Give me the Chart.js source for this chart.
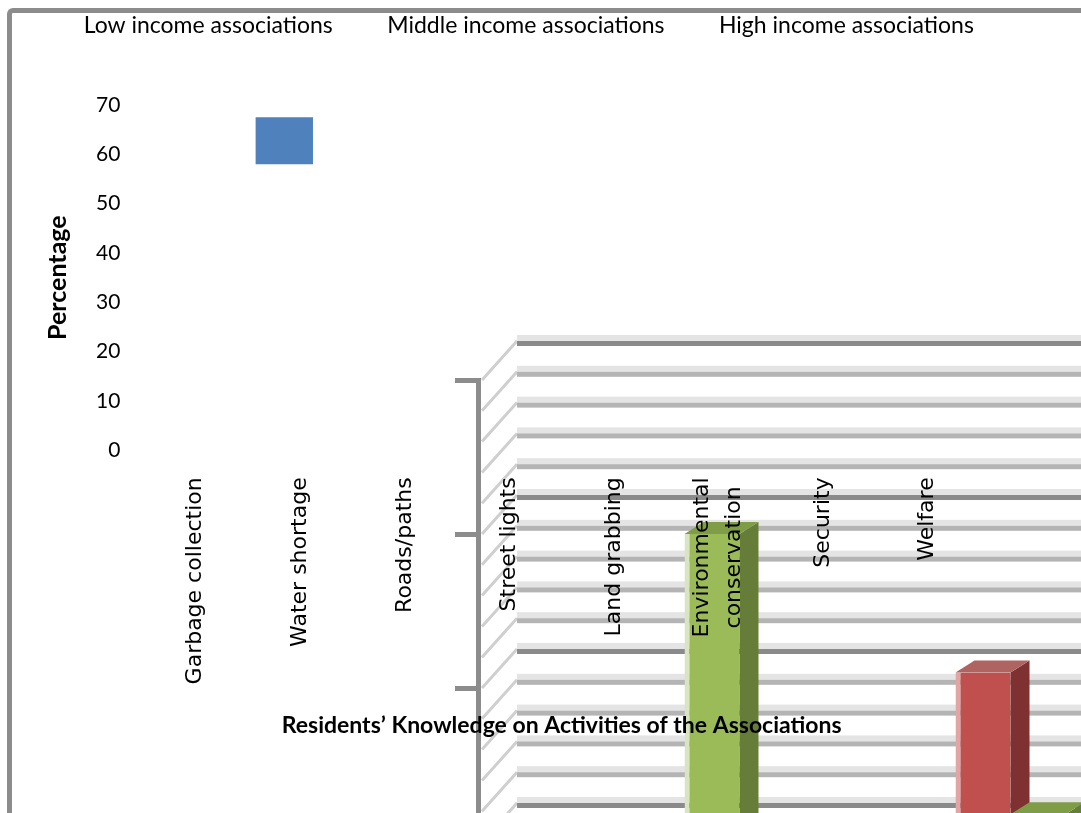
<!DOCTYPE html>
<html>
<head>
<meta charset="utf-8">
<script src="https://cdn.jsdelivr.net/npm/chart.js@4.4.1/dist/chart.umd.min.js"></script>
<style>
  html, body { margin: 0; padding: 0; background: #fff; overflow: hidden; }
  body { width: 1081px; height: 813px; position: relative; }
  #frame { position: absolute; left: 7px; top: 8px; width: 1200px; height: 900px;
           border-left: 5px solid #8c8c8c; border-top: 5px solid #8c8c8c; border-top-left-radius: 6px; }
  #zoomWrap { position: absolute; left: 440px; top: 320px; }
  #mainWrap { position: absolute; left: 0; top: 0; }
</style>
</head>
<body>
<div id="frame"></div>
<div id="zoomWrap"><canvas id="zoomChart" width="1040" height="700"></canvas></div>
<div id="mainWrap"><canvas id="mainChart" width="1081" height="813"></canvas></div>
<script>
// categories and series
const categories = ["Garbage collection", "Water shortage", "Roads/paths", "Street lights",
  "Land grabbing", ["Environmental", "conservation"], "Security", "Welfare"];
const seriesNames = ["Low income associations", "Middle income associations", "High income associations"];
const yTicks = [0, 10, 20, 30, 40, 50, 60, 70];

// main plot: only the clipped low income mark is visible
const lowIncome = [null, [58, 67.5], null, null, null, null, null, null];
const middleIncome = [null, null, null, null, null, null, null, null];
const highIncome = [null, null, null, null, null, null, null, null];

// magnified 3D plot area (bottom right)
const zoomCategories = ["Garbage collection", "Water shortage", "Roads/paths"];
const zoomLow = [null, null, null];
const zoomMiddle = [null, 10.5, null];
const zoomHigh = [15, 5.9, null];
const zoomTicks = [0, 1, 2, 3, 4, 5, 6, 7, 8, 9, 10, 11, 12, 13, 14, 15, 16, 17, 18, 19, 20];

const blue = "#4f81bd", red = "#c0504d", green = "#9bbb59";

// 3D walls and front axis of the magnified plot
const wallPlugin = {
  id: "wall",
  beforeDatasetsDraw(chart) {
    const ctx = chart.ctx;
    const area = chart.chartArea;
    const ya = chart.scales.y;
    const axisX = area.left - 15;
    const dx = 38, dy = -39;
    ctx.save();
    zoomTicks.forEach((v) => {
      const py = ya.getPixelForValue(v);
      const major = v % 5 === 0;
      // side wall line
      ctx.strokeStyle = "#cfcfcf";
      ctx.lineWidth = 3;
      ctx.beginPath();
      ctx.moveTo(axisX + 3, py);
      ctx.lineTo(axisX + dx, py + dy);
      ctx.stroke();
      // back wall line
      ctx.fillStyle = "#e4e4e4";
      ctx.fillRect(axisX + dx, py + dy - 6, chart.width, 6);
      ctx.fillStyle = major ? "#8a8a8a" : "#b4b4b4";
      ctx.fillRect(axisX + dx, py + dy, chart.width, 5);
    });
    // front axis with major ticks
    const top = ya.getPixelForValue(20);
    ctx.fillStyle = "#8c8c8c";
    ctx.fillRect(axisX - 3, top - 2, 5, chart.height);
    zoomTicks.filter((v) => v % 5 === 0).forEach((v) => {
      const py = ya.getPixelForValue(v);
      ctx.fillRect(axisX - 24, py - 2, 24, 5);
    });
    ctx.restore();
  },
  afterDatasetsDraw(chart) {
    const ctx = chart.ctx;
    const bx = 19, by = -12;
    const shades = [
      { side: "#2f4b70", top: "#3d6396" },
      { side: "#7e3130", top: "#b06462" },
      { side: "#667c39", top: "#7f9c47" },
    ];
    ctx.save();
    chart.data.datasets.forEach((ds, i) => {
      chart.getDatasetMeta(i).data.forEach((bar, j) => {
        if (ds.data[j] == null) return;
        const { x, y, width, base } = bar.getProps(["x", "y", "width", "base"], true);
        const l = x - width / 2, r = x + width / 2;
        ctx.fillStyle = shades[i].side;
        ctx.beginPath();
        ctx.moveTo(r, y); ctx.lineTo(r + bx, y + by);
        ctx.lineTo(r + bx, base + by); ctx.lineTo(r, base);
        ctx.closePath(); ctx.fill();
        ctx.fillStyle = shades[i].top;
        ctx.beginPath();
        ctx.moveTo(l, y); ctx.lineTo(l + bx, y + by);
        ctx.lineTo(r + bx, y + by); ctx.lineTo(r, y);
        ctx.closePath(); ctx.fill();
      });
    });
    ctx.restore();
  },
};

new Chart(document.getElementById("zoomChart"), {
  type: "bar",
  data: {
    labels: zoomCategories,
    datasets: [
      { label: seriesNames[0], data: zoomLow, backgroundColor: blue },
      { label: seriesNames[1], data: zoomMiddle, backgroundColor: red,
        borderColor: "#e3a5a4", borderWidth: { left: 5, top: 0, right: 0, bottom: 0 } },
      { label: seriesNames[2], data: zoomHigh, backgroundColor: green,
        borderColor: "#d9e4c3", borderWidth: { left: 5, top: 0, right: 0, bottom: 0 } },
    ],
  },
  options: {
    responsive: false,
    animation: false,
    layout: { padding: { left: 54, top: 60, right: 8, bottom: 24 } },
    datasets: { bar: { categoryPercentage: 0.506, barPercentage: 1 } },
    plugins: { legend: { display: false }, tooltip: { enabled: false } },
    scales: {
      x: { display: false, offset: true },
      y: { display: false, min: 0, max: 20 },
    },
  },
  plugins: [wallPlugin],
});

// legend sits high, chart area starts lower
const legendGap = {
  id: "legendGap",
  beforeInit(chart) {
    const fit = chart.legend.fit;
    chart.legend.fit = function () {
      fit.call(this);
      this.height = 91;
    };
  },
};

// center the lines of two-line rotated category labels
const centerLines = {
  id: "centerLines",
  beforeDraw(chart) {
    const ctx = chart.ctx;
    chart.scales.x.getLabelItems().forEach((item) => {
      if (!Array.isArray(item.label)) return;
      ctx.save();
      ctx.font = item.font.string;
      const w = Math.max(...item.label.map((s) => ctx.measureText(s).width));
      ctx.restore();
      item.textOffset -= (item.label.length - 1) * item.font.lineHeight / 2;
      item.options.textAlign = "center";
      item.options.translation[1] += w / 2;
    });
  },
};

new Chart(document.getElementById("mainChart"), {
  type: "bar",
  data: {
    labels: categories,
    datasets: [
      { label: seriesNames[0], data: lowIncome, backgroundColor: blue },
      { label: seriesNames[1], data: middleIncome, backgroundColor: red },
      { label: seriesNames[2], data: highIncome, backgroundColor: green },
    ],
  },
  options: {
    responsive: false,
    animation: false,
    layout: { padding: { left: 23, right: 101, top: 14, bottom: 70 } },
    datasets: { bar: { categoryPercentage: 0.457, barPercentage: 3.6 } },
    plugins: {
      tooltip: { enabled: false },
      legend: {
        position: "top",
        labels: {
          color: "#000",
          font: { family: "Lato", size: 23 },
          boxWidth: 43,
          padding: 0,
          generateLabels: (chart) =>
            Chart.defaults.plugins.legend.labels.generateLabels(chart).map((item) => ({
              ...item, fillStyle: "rgba(0,0,0,0)", strokeStyle: "rgba(0,0,0,0)", lineWidth: 0,
            })),
        },
      },
    },
    scales: {
      x: {
        offset: true,
        grid: { display: false, drawTicks: false },
        border: { display: false },
        ticks: {
          autoSkip: false, maxRotation: 90, minRotation: 90, padding: 27,
          color: "#000", font: { family: "DejaVu Sans", size: 22, lineHeight: 1.45 },
        },
        title: {
          display: true,
          text: "Residents\u2019 Knowledge on Activities of the Associations",
          color: "#000",
          font: { family: "Lato", size: 23, weight: "bold" },
          padding: { top: 0, bottom: 4 },
        },
      },
      y: {
        min: 0, max: 70,
        afterBuildTicks: (axis) => { axis.ticks = yTicks.map((v) => ({ value: v })); },
        grid: { display: false, drawTicks: false },
        border: { display: false },
        ticks: { padding: 23, color: "#000", font: { family: "Lato", size: 21 } },
        title: {
          display: true, text: "Percentage", color: "#000",
          font: { family: "Lato", size: 25, weight: "bold" },
          padding: { top: 20, bottom: 0 },
        },
      },
    },
  },
  plugins: [legendGap, centerLines],
});
</script>
</body>
</html>
